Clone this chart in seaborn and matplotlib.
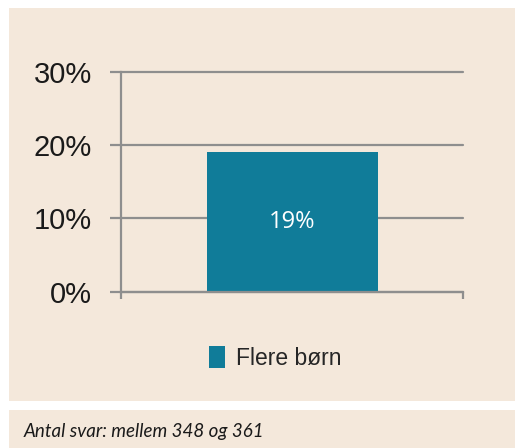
"""
Søjlediagram: andel der ønsker flere børn.
Gemmer figuren som out.png (515x448 px).
"""

import matplotlib
matplotlib.use("Agg")

import matplotlib.pyplot as plt
import pandas as pd
import seaborn as sns
from matplotlib.patches import Rectangle
from matplotlib.ticker import PercentFormatter

# Data
kategorier = ["Flere børn"]
andele = [0.19]
etiketter = ["19%"]
y_ticks = [0.0, 0.1, 0.2, 0.3]
fodnote = "Antal svar: mellem 348 og 361"

BEIGE = "#F4E8DB"
BLAA = "#107C99"
GRAA = "#8E8E8E"

sns.set_theme(style="white")
plt.rcParams["font.family"] = ["Liberation Sans", "DejaVu Sans"]


def main():
    df = pd.DataFrame({"kategori": kategorier, "andel": andele})

    fig = plt.figure(figsize=(5.15, 4.48), dpi=100)
    fig.patch.set_facecolor("white")

    # baggrundsfelter (diagram + fodnote)
    fig.patches.append(Rectangle((9 / 515, 47 / 448), 506 / 515, 393 / 448,
                                 transform=fig.transFigure, facecolor=BEIGE,
                                 edgecolor="none", zorder=-10))
    fig.patches.append(Rectangle((9 / 515, 0), 506 / 515, 38 / 448,
                                 transform=fig.transFigure, facecolor=BEIGE,
                                 edgecolor="none", zorder=-10))

    ax = fig.add_axes([0.2350, 0.3489, 0.6641, 0.4911])
    ax.set_facecolor("none")

    sns.barplot(data=df, x="kategori", y="andel", hue="kategori",
                palette=[BLAA], width=0.5, saturation=1, ax=ax, legend=True,
                linewidth=0, edgecolor="none")

    for cont, lab in zip(ax.containers, [etiketter]):
        ax.bar_label(cont, labels=lab, label_type="center", color="white",
                     fontsize=17, family=["Open Sans", "DejaVu Sans"])

    ax.set_ylim(0, 0.30)
    ax.set_xlim(-0.5, 0.5)
    ax.set_yticks(y_ticks)
    ax.yaxis.set_major_formatter(PercentFormatter(1.0, decimals=0))
    ax.set_xticks([-0.5, 0.5])
    ax.set_xticklabels(["", ""])
    ax.set_xlabel("")
    ax.set_ylabel("")

    ax.grid(axis="y", color=GRAA, linewidth=1.6)
    for gl in ax.get_ygridlines():
        gl.set_clip_on(False)
    ax.set_axisbelow(True)

    for side in ["top", "right"]:
        ax.spines[side].set_visible(False)
    for side in ["left", "bottom"]:
        ax.spines[side].set_color(GRAA)
        ax.spines[side].set_linewidth(1.6)

    ax.tick_params(axis="y", direction="out", length=8, width=1.6,
                   color=GRAA, pad=13, labelsize=21, labelcolor="#1a1a1a",
                   left=True)
    ax.tick_params(axis="x", direction="out", length=5, width=1.6,
                   color=GRAA, bottom=True)

    # legende under diagrammet
    handles, labels = ax.get_legend_handles_labels()
    ax.get_legend().remove()
    for h in handles:
        h.set_edgecolor("none")
        h.set_linewidth(0)
    fig.legend(handles, labels, loc="center", bbox_to_anchor=(0.534, 0.201),
               frameon=False, fontsize=16.5, handlelength=0.7,
               handleheight=1.1, handletextpad=0.5)

    fig.text(24 / 515, 17 / 448, fodnote, fontsize=13.5, style="italic",
             family=["Lato", "DejaVu Sans"], color="#1a1a1a", va="center")

    fig.savefig("out.png", dpi=100, facecolor=fig.get_facecolor())
    plt.close(fig)


if __name__ == "__main__":
    main()
